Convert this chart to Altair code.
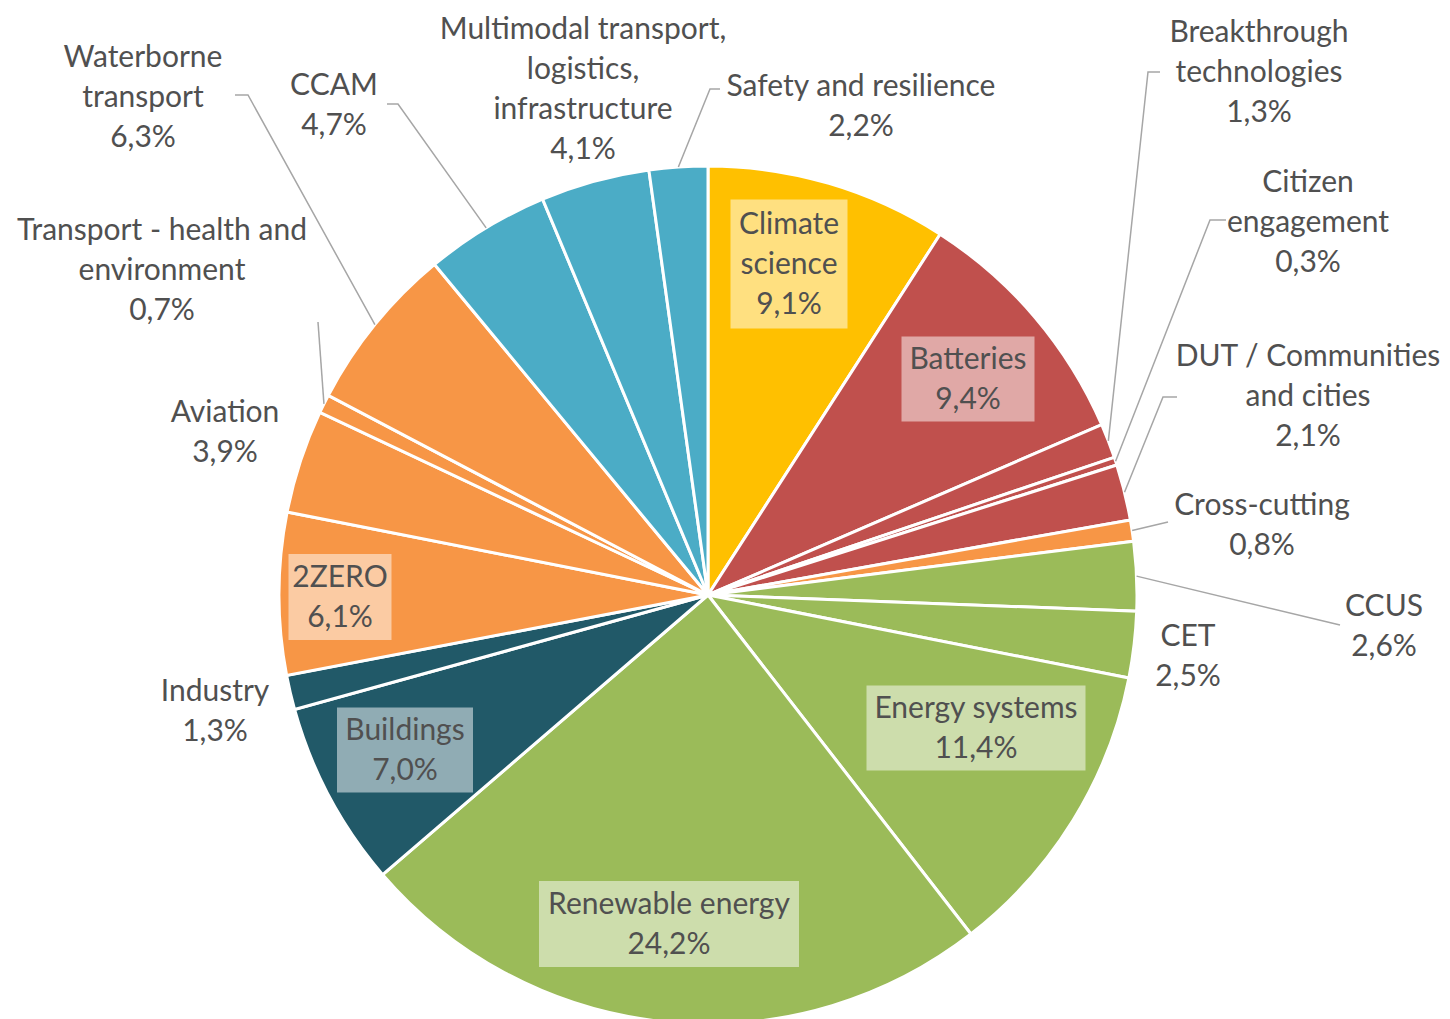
import math
import altair as alt
import pandas as pd

# ---------------- data ----------------
CATEGORIES = [
    "Climate science", "Batteries", "Breakthrough technologies",
    "Citizen engagement", "DUT / Communities and cities", "Cross-cutting",
    "CCUS", "CET", "Energy systems", "Renewable energy", "Buildings",
    "Industry", "2ZERO", "Aviation", "Transport - health and environment",
    "Waterborne transport", "CCAM",
    "Multimodal transport, logistics, infrastructure", "Safety and resilience",
]
SHARES = [9.1, 9.4, 1.3, 0.3, 2.1, 0.8, 2.6, 2.5, 11.4, 24.2, 7.0,
          1.3, 6.1, 3.9, 0.7, 6.3, 4.7, 4.1, 2.2]
LABEL_TEXT = [
    "Climate\nscience", "Batteries", "Breakthrough\ntechnologies",
    "Citizen\nengagement", "DUT / Communities\nand cities", "Cross-cutting",
    "CCUS", "CET", "Energy systems", "Renewable energy", "Buildings",
    "Industry", "2ZERO", "Aviation", "Transport - health and\nenvironment",
    "Waterborne\ntransport", "CCAM",
    "Multimodal transport,\nlogistics,\ninfrastructure", "Safety and resilience",
]

# ---------------- style / layout ----------------
YELLOW, RED, GREEN, ORANGE, TEAL, BLUE = (
    "#FFC000", "#C0504D", "#9BBB59", "#F79646", "#215968", "#4BACC6")
SLICE_COLORS = [YELLOW, RED, RED, RED, RED, ORANGE, GREEN, GREEN, GREEN,
                GREEN, TEAL, TEAL, ORANGE, ORANGE, ORANGE, ORANGE, BLUE,
                BLUE, BLUE]

W, H = 1434, 1011
CX, CY = 700, 587          # pie centre inside the view
R = 429                    # pie radius
FONT = "Lato"
FONT_SIZE = 30
LINE_H = 40
TEXT_COLOR = "#505050"
LEADER_COLOR = "#A6A6A6"

# label block centre, offset from pie centre (px, y downward)
LABEL_POS = {
    "Climate science": (81, -330),
    "Batteries": (260, -215),
    "Breakthrough technologies": (551, -522),
    "Citizen engagement": (600, -372),
    "DUT / Communities and cities": (600, -198),
    "Cross-cutting": (554, -69),
    "CCUS": (676, 32),
    "CET": (480, 62),
    "Energy systems": (268, 134),
    "Renewable energy": (-39, 330),
    "Buildings": (-303, 156),
    "Industry": (-493, 117),
    "2ZERO": (-368, 3),
    "Aviation": (-483, -162),
    "Transport - health and environment": (-546, -324),
    "Waterborne transport": (-565, -497),
    "CCAM": (-374, -489),
    "Multimodal transport, logistics, infrastructure": (-125, -505),
    "Safety and resilience": (153, -488),
}
# inside labels with a light box (width, height)
BOX_SIZE = {
    "Climate science": (117, 129),
    "Batteries": (133, 85),
    "Energy systems": (219, 85),
    "Renewable energy": (260, 86),
    "Buildings": (136, 85),
    "2ZERO": (103, 86),
}
# leader lines: elbow point and label attach point (offset from centre)
LEADERS = {
    "Waterborne transport": [(-460, -500), (-473, -500)],
    "CCAM": [(-310, -491), (-321, -491)],
    "Transport - health and environment": [(-390, -273)],
    "Safety and resilience": [(2, -506), (12, -506)],
    "Breakthrough technologies": [(440, -523), (452, -523)],
    "Citizen engagement": [(502, -375), (518, -375)],
    "DUT / Communities and cities": [(455, -198), (469, -198)],
    "Cross-cutting": [(460, -73)],
    "CCUS": [(632, 30)],
}

# ---------------- build tables ----------------
total = sum(SHARES)
slices, labels, boxes, leaders = [], [], [], []
cum = 0.0
for i, (cat, v, txt) in enumerate(zip(CATEGORIES, SHARES, LABEL_TEXT)):
    mid = (cum + v / 2) / total * 2 * math.pi
    cum += v
    slices.append({"category": cat, "share": v, "idx": i})
    pct = f"{v:.1f}".replace(".", ",") + "%"
    full = txt + "\n" + pct
    n_lines = full.count("\n") + 1
    dx, dy = LABEL_POS[cat]
    # Vega anchors the first line; shift so the block is centred on (dx, dy)
    labels.append({"category": cat, "text": full, "dx": dx,
                   "dy": dy - (n_lines - 1) * LINE_H / 2})
    if cat in BOX_SIZE:
        bw, bh = BOX_SIZE[cat]
        boxes.append({"category": cat, "x1": dx - bw / 2, "x2": dx + bw / 2,
                      "y1": dy - bh / 2 - 1, "y2": dy + bh / 2 - 1})
    if cat in LEADERS:
        pts = [(R * math.sin(mid), -R * math.cos(mid))] + LEADERS[cat]
        for k, (px, py) in enumerate(pts):
            leaders.append({"category": cat, "step": k, "dx": px, "dy": py})

df_slices = pd.DataFrame(slices)
df_labels = pd.DataFrame(labels)
df_boxes = pd.DataFrame(boxes)
df_leaders = pd.DataFrame(leaders)

xs = alt.Scale(domain=[-CX, W - CX], nice=False, zero=False)
ys = alt.Scale(domain=[H - CY, -CY], nice=False, zero=False)

pie = alt.Chart(df_slices).mark_arc(
    outerRadius=R, stroke="white", strokeWidth=3
).encode(
    theta=alt.Theta("share:Q", stack=True),
    color=alt.Color("category:N", scale=alt.Scale(domain=CATEGORIES, range=SLICE_COLORS),
                    legend=None),
    order=alt.Order("idx:Q"),
    x=alt.X(datum=0, scale=xs, axis=None),
    y=alt.Y(datum=0, scale=ys, axis=None),
)

lead = alt.Chart(df_leaders).mark_line(
    color=LEADER_COLOR, strokeWidth=1.5
).encode(
    x=alt.X("dx:Q", scale=xs, axis=None),
    y=alt.Y("dy:Q", scale=ys, axis=None),
    detail="category:N",
    order="step:Q",
)

box = alt.Chart(df_boxes).mark_rect(
    fill="white", opacity=0.5
).encode(
    x=alt.X("x1:Q", scale=xs, axis=None), x2="x2:Q",
    y=alt.Y("y1:Q", scale=ys, axis=None), y2="y2:Q",
)

text = alt.Chart(df_labels).mark_text(
    font=FONT, fontSize=FONT_SIZE, color=TEXT_COLOR, lineBreak="\n",
    lineHeight=LINE_H, align="center", baseline="middle"
).encode(
    x=alt.X("dx:Q", scale=xs, axis=None),
    y=alt.Y("dy:Q", scale=ys, axis=None),
    text="text:N",
)

chart = alt.layer(pie, lead, box, text).properties(
    width=W, height=H, padding=0,
    autosize=alt.AutoSizeParams(type="none"),
).configure_view(stroke=None)

chart.save("out.html", embed_options={"renderer": "svg", "actions": False})
